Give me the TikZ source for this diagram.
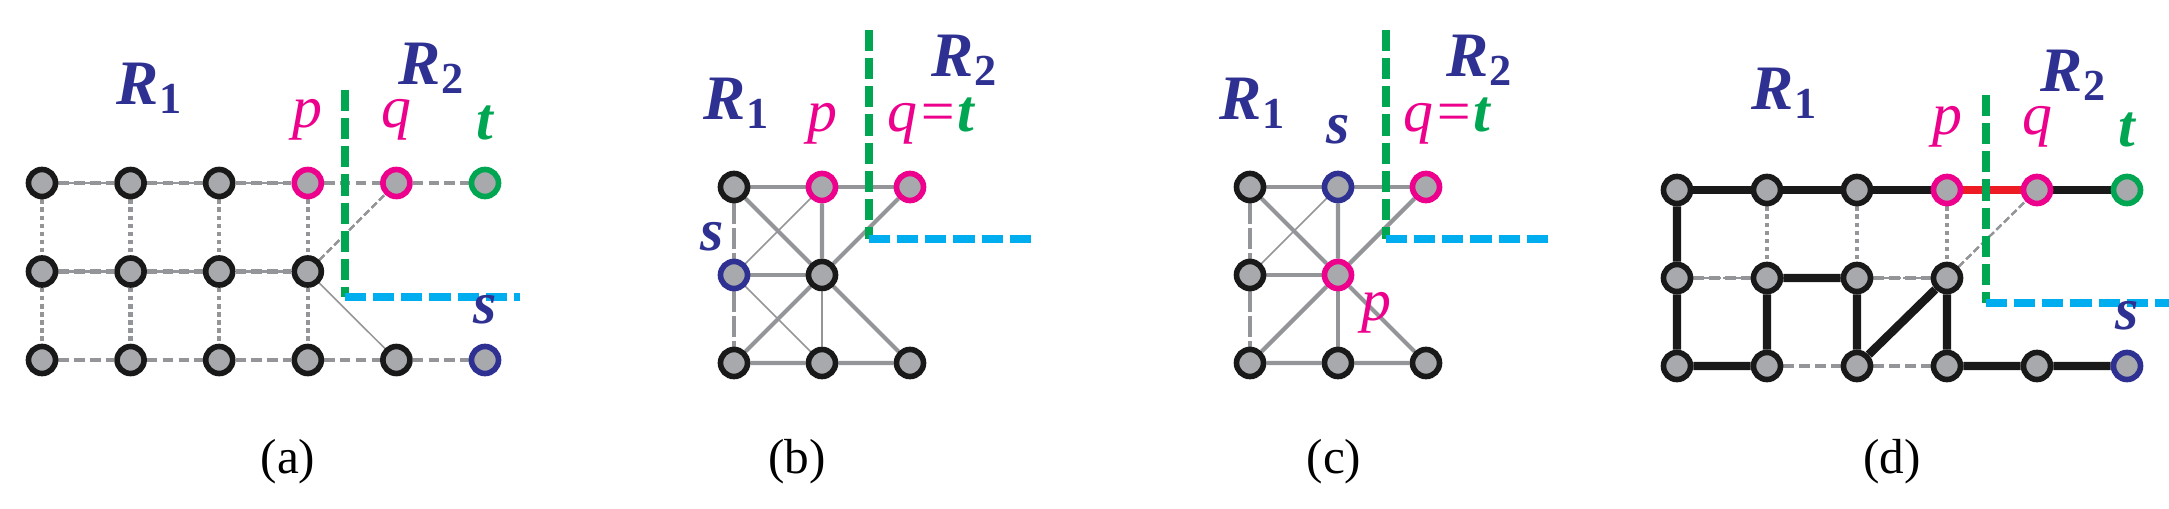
\documentclass[tikz,border=0pt]{standalone}
\usepackage{fontspec}
\setmainfont{Liberation Serif}
\usetikzlibrary{positioning,backgrounds}
\definecolor{nodegray}{HTML}{A7A9AC}
\definecolor{edgegray}{HTML}{939598}
\definecolor{pinkp}{HTML}{EC008C}
\definecolor{greent}{HTML}{00A651}
\definecolor{blues}{HTML}{2E3192}
\definecolor{cyanb}{HTML}{00AEEF}
\definecolor{redpq}{HTML}{ED1C24}

\begin{document}
\begin{tikzpicture}[
      x=0.01cm, y=-0.01cm,
      vtx/.style={circle, draw=black!90, fill=nodegray, line width=1.6pt, minimum size=0.27cm, inner sep=0pt}, % plain vertex
      vp/.style={vtx, draw=pinkp},
      vt/.style={vtx, draw=greent},
      vs/.style={vtx, draw=blues},
      hedge/.style={edgegray, line width=1.3pt, dash pattern=on 3pt off 1.5pt},
      vedge/.style={edgegray, line width=1.3pt, densely dotted},
      dedge/.style={edgegray, line width=0.6pt, dash pattern=on 2pt off 1pt},
      sedge/.style={edgegray, line width=1.2pt},
      tedge/.style={edgegray, line width=0.45pt},
      route/.style={black!90, line width=2.4pt},
      cutv/.style={greent, line width=2.4pt, dash pattern=on 6pt off 2pt},
      cuth/.style={cyanb, line width=2.4pt, dash pattern=on 6pt off 2pt},
      rlab/.style={text=blues, font=\fontsize{18}{20}\selectfont\bfseries\itshape},
      vlab/.style={font=\fontsize{17}{18}\selectfont\itshape},
      sublab/.style={font=\fontsize{14}{16}\selectfont}
  ]
  \useasboundingbox (0,0) rectangle (2169,509);

  % ---------- (a)
  \foreach \i/\j/\s in {0/0/vtx,1/0/vtx,2/0/vtx,3/0/vp,4/0/vp,5/0/vt,0/1/vtx,1/1/vtx,2/1/vtx,3/1/vtx,
                         0/2/vtx,1/2/vtx,2/2/vtx,3/2/vtx,4/2/vtx,5/2/vs}
      \node[\s] (a\i\j) at ({42+88.6*\i},{183+88.5*\j}) {};
  \begin{scope}[on background layer]
      \foreach \i [evaluate=\i as \k using int(\i+1)] in {0,...,4} {
          \draw[hedge] (a\i0) -- (a\k0);
          \draw[hedge] (a\i2) -- (a\k2);
      }
      \foreach \i [evaluate=\i as \k using int(\i+1)] in {0,...,2}
          \draw[hedge] (a\i1) -- (a\k1);
      \foreach \i in {0,...,3}
          \draw[vedge] (a\i0) -- (a\i1) -- (a\i2);
      \foreach \i [evaluate=\i as \k using int(\i+1)] in {0,...,2}
          \foreach \j [evaluate=\j as \l using int(\j+1)] in {0,1} {
              \draw[dedge] (a\i\j) -- (a\k\l);
              \draw[dedge] (a\k\j) -- (a\i\l);
          }
      \draw[dedge] (a31) -- (a40);
      \draw[tedge] (a31) -- (a42);
  \end{scope}
  \coordinate (acut) at (345,297);
  \coordinate (atop) at (345,90);
  \coordinate (aend) at (520,297);
  \draw[cutv] (atop) -- (acut);
  \draw[cuth] (acut) -- (aend);
  \node[rlab] at (150,88) {R\textsubscript{\upshape 1}};
  \node[rlab] at (432,68) {R\textsubscript{\upshape 2}};
  \node[vlab, text=pinkp, above=4pt of a30] {p};
  \node[vlab, text=pinkp, above=4pt of a40] {q};
  \node[vlab, text=greent, above=4pt of a50] {\bfseries t};
  \node[vlab, text=blues, above=2pt of a52] {\bfseries s};
  \node[sublab] at (288,462) {(a)};

  % ---------- (b)
  \foreach \i/\j/\s in {0/0/vtx,1/0/vp,2/0/vp,0/1/vs,1/1/vtx,0/2/vtx,1/2/vtx,2/2/vtx}
      \node[\s] (b\i\j) at ({734+88*\i},{187+88*\j}) {};
  \begin{scope}[on background layer]
      \draw[sedge] (b00) -- (b10) -- (b20);
      \draw[sedge] (b00) -- (b11) -- (b22) -- (b12) -- (b02) -- (b11);
      \draw[sedge] (b10) -- (b11) -- (b20);
      \draw[sedge] (b01) -- (b11);
      \draw[tedge] (b10) -- (b01) -- (b12) -- (b11);
      \draw[edgegray, line width=1pt, dash pattern=on 6pt off 1pt] (b00) -- (b01) -- (b02);
  \end{scope}
  \coordinate (bcut) at (869,239);
  \coordinate (btop) at (869,30);
  \coordinate (bend) at (1034,239);
  \draw[cutv] (btop) -- (bcut);
  \draw[cuth] (bcut) -- (bend);
  \node[rlab] at (737,103) {R\textsubscript{\upshape 1}};
  \node[rlab] at (965,60) {R\textsubscript{\upshape 2}};
  \node[vlab, text=pinkp, above=4pt of b10] {p};
  \node[vlab, text=pinkp, above=4pt of b20, xshift=6pt] {q=\textcolor{greent}{\bfseries t}};
  \node[vlab, text=blues, above left=0pt and -4pt of b01] {\bfseries s};
  \node[sublab] at (797,462) {(b)};

  % ---------- (c)
  \foreach \i/\j/\s in {0/0/vtx,1/0/vs,2/0/vp,0/1/vtx,1/1/vp,0/2/vtx,1/2/vtx,2/2/vtx}
      \node[\s] (c\i\j) at ({1250+88*\i},{187+88*\j}) {};
  \begin{scope}[on background layer]
      \draw[sedge] (c00) -- (c10) -- (c20);
      \draw[sedge] (c00) -- (c11) -- (c22) -- (c12) -- (c02) -- (c11);
      \draw[sedge] (c10) -- (c11) -- (c20);
      \draw[sedge] (c01) -- (c11) -- (c12);
      \draw[tedge] (c10) -- (c01);
      \draw[edgegray, line width=1pt, dash pattern=on 6pt off 1pt] (c00) -- (c01) -- (c02);
  \end{scope}
  \coordinate (ccut) at (1386,239);
  \coordinate (ctop) at (1386,30);
  \coordinate (cend) at (1550,239);
  \draw[cutv] (ctop) -- (ccut);
  \draw[cuth] (ccut) -- (cend);
  \node[rlab] at (1253,103) {R\textsubscript{\upshape 1}};
  \node[rlab] at (1480,60) {R\textsubscript{\upshape 2}};
  \node[vlab, text=blues, above=4pt of c10] {\bfseries s};
  \node[vlab, text=pinkp, above=4pt of c20, xshift=6pt] {q=\textcolor{greent}{\bfseries t}};
  \node[vlab, text=pinkp, below right=-2pt and 0pt of c11] {p};
  \node[sublab] at (1334,462) {(c)};

  % ---------- (d)
  \foreach \i/\j/\s in {0/0/vtx,1/0/vtx,2/0/vtx,3/0/vp,4/0/vp,5/0/vt,0/1/vtx,1/1/vtx,2/1/vtx,3/1/vtx,
                         0/2/vtx,1/2/vtx,2/2/vtx,3/2/vtx,4/2/vtx,5/2/vs}
      \node[\s] (d\i\j) at ({1677+90*\i},{190+88*\j}) {};
  \begin{scope}[on background layer]
      \draw[hedge] (d01) -- (d11);
      \draw[hedge] (d21) -- (d31);
      \draw[hedge] (d12) -- (d22) -- (d32);
      \foreach \i in {1,2,3}
          \draw[vedge] (d\i0) -- (d\i1);
      \foreach \i [evaluate=\i as \k using int(\i+1)] in {0,...,2}
          \foreach \j [evaluate=\j as \l using int(\j+1)] in {0,1} {
              \draw[dedge] (d\i\j) -- (d\k\l);
              \draw[dedge] (d\k\j) -- (d\i\l);
          }
      \draw[dedge] (d31) -- (d40);
      \draw[route] (d00) -- (d10) -- (d20) -- (d30);
      \draw[redpq, line width=2.4pt] (d30) -- (d40);
      \draw[route] (d40) -- (d50);
      \draw[route] (d00) -- (d01) -- (d02) -- (d12) -- (d11) -- (d21) -- (d22) -- (d31) -- (d32) -- (d42) -- (d52);
  \end{scope}
  \coordinate (dcut) at (1986,303);
  \coordinate (dtop) at (1986,95);
  \coordinate (dend) at (2169,303);
  \draw[cutv] (dtop) -- (dcut);
  \draw[cuth] (dcut) -- (dend);
  \node[rlab] at (1785,93) {R\textsubscript{\upshape 1}};
  \node[rlab] at (2074,75) {R\textsubscript{\upshape 2}};
  \node[vlab, text=pinkp, above=4pt of d30] {p};
  \node[vlab, text=pinkp, above=4pt of d40] {q};
  \node[vlab, text=greent, above=4pt of d50] {\bfseries t};
  \node[vlab, text=blues, above=2pt of d52] {\bfseries s};
  \node[sublab] at (1892,462) {(d)};
\end{tikzpicture}
\end{document}
